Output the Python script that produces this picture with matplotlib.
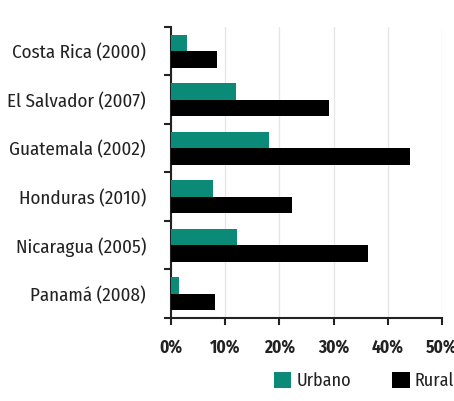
import matplotlib
matplotlib.use("Agg")
import matplotlib.pyplot as plt
import numpy as np

plt.rcParams['font.family'] = ['Fira Sans Condensed', 'DejaVu Sans']

categories = ["Costa Rica (2000)", "El Salvador (2007)", "Guatemala (2002)",
              "Honduras (2010)", "Nicaragua (2005)", "Panamá (2008)"]
urbano = [3.0, 11.9, 18.0, 7.8, 12.1, 1.5]
rural = [8.5, 29.2, 44.0, 22.3, 36.4, 8.1]
xticks = [0, 10, 20, 30, 40, 50]
xticklabels = ["0%", "10%", "20%", "30%", "40%", "50%"]

teal = '#0b8a77'
dark = '#222222'
fig = plt.figure(figsize=(4.54, 4.01), dpi=100)
ax = fig.add_axes([0.3767, 0.207, 0.597, 0.7257])
y = np.arange(len(categories))
h = 0.34
ax.barh(y - h / 2, urbano, height=h, color=teal, label='Urbano', zorder=3)
ax.barh(y + h / 2, rural, height=h, color='black', label='Rural', zorder=3)
ax.set_ylim(len(categories) - 0.5, -0.5)
ax.set_xlim(0, 50)
ax.set_yticks(y)
ax.set_yticklabels(categories, fontsize=13.7, color=dark)
ax.tick_params(axis='y', which='major', length=0, pad=18)
ax.set_yticks(np.arange(-0.5, len(categories) + 0.5, 1), minor=True)
ax.tick_params(axis='y', which='minor', length=5, width=1.5, color=dark)
ax.set_xticks(xticks)
ax.set_xticklabels(xticklabels, fontsize=12.5, fontweight='bold', color=dark)
ax.tick_params(axis='x', length=5, width=1.5, color=dark, pad=10)
ax.grid(axis='x', color='#e6e6e6', linewidth=1, zorder=0)
for s in ['top', 'right']:
    ax.spines[s].set_visible(False)
for s in ['left', 'bottom']:
    ax.spines[s].set_linewidth(1.5)
    ax.spines[s].set_color(dark)
leg = fig.legend(loc='center right', bbox_to_anchor=(1.0, 0.05), ncol=2, frameon=False,
                 fontsize=13, handlelength=0.95, handleheight=0.95, columnspacing=2.3,
                 handletextpad=0.28, borderpad=0, borderaxespad=0)
for t in leg.get_texts():
    t.set_color(dark)
fig.savefig('out.png', dpi=100)
